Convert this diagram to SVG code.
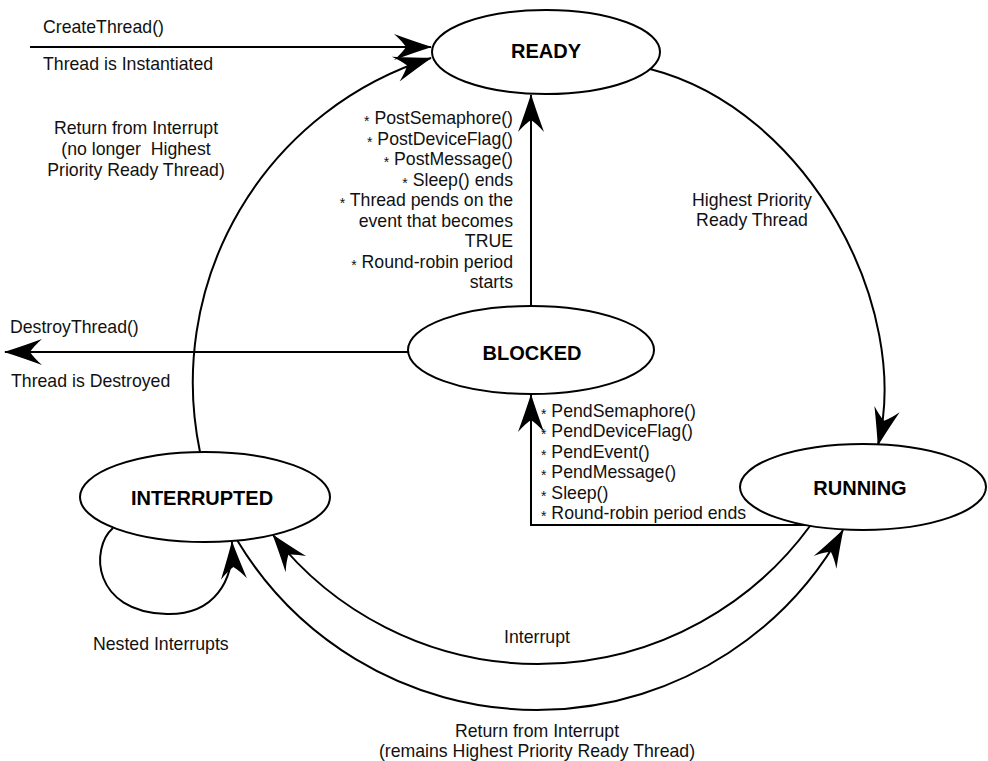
<svg xmlns="http://www.w3.org/2000/svg" width="988" height="761" viewBox="0 0 988 761">
<defs>
<style>
.node ellipse{fill:#fff;stroke:#000;stroke-width:2}
.nl{font-family:"Liberation Sans",Arial,sans-serif;font-size:20px;font-weight:bold;text-anchor:middle;fill:#000}
.t{font-family:"Liberation Sans",Arial,sans-serif;font-size:17.7px;fill:#111}
.c{text-anchor:middle}
.e{text-anchor:end}
.ast{font-size:14px}
#connectors path{fill:none;stroke:#000;stroke-width:2}
</style>
<marker id="ah" markerUnits="userSpaceOnUse" orient="auto" overflow="visible" markerWidth="1" markerHeight="1" refX="0" refY="0">
<path d="M1,0 Q-15,-5 -37,-13 Q-29,-6 -25,0 Q-29,6 -37,13 Q-15,5 1,0 Z" fill="#000"/>
</marker>
</defs>
<rect width="988" height="761" fill="#fff"/>
<g id="connectors">
<path d="M30,47 L431,47" marker-end="url(#ah)"/>
<path d="M200,452 A340,340 0 0 1 431,58" marker-end="url(#ah)"/>
<path d="M650,69 C810,110 912,310 878,445" marker-end="url(#ah)"/>
<path d="M531,306 L531,95" marker-end="url(#ah)"/>
<path d="M408,352 L5,352" marker-end="url(#ah)"/>
<path d="M805,525 L531,525 L531,395" marker-end="url(#ah)"/>
<path d="M810,526 A337,337 0 0 1 273,535" marker-end="url(#ah)"/>
<path d="M237,540 A350,350 0 0 0 843,530" marker-end="url(#ah)"/>
<path d="M113,528 C90,548 92,612 167,614 C215,615 234,580 232,542" marker-end="url(#ah)"/>
</g>
<g id="ready" class="node"><ellipse cx="546" cy="52" rx="114" ry="42"/><text class="nl" x="546" y="58">READY</text></g>
<g id="blocked" class="node"><ellipse cx="531" cy="350" rx="123" ry="44"/><text class="nl" x="532" y="360">BLOCKED</text></g>
<g id="running" class="node"><ellipse cx="863" cy="487" rx="123" ry="43"/><text class="nl" x="860" y="495">RUNNING</text></g>
<g id="interrupted" class="node"><ellipse cx="205" cy="497" rx="125" ry="45"/><text class="nl" x="202" y="505">INTERRUPTED</text></g>
<g id="labels">
<text class="t" x="43" y="33">CreateThread()</text>
<text class="t" x="43" y="70">Thread is Instantiated</text>
<text class="t c" x="136" y="134">Return from Interrupt</text>
<text class="t c" x="136" y="155">(no longer&#160; Highest</text>
<text class="t c" x="136" y="176">Priority Ready Thread)</text>
<text class="t c" x="752" y="206">Highest Priority</text>
<text class="t c" x="752" y="226">Ready Thread</text>
<text class="t" x="10" y="333">DestroyThread()</text>
<text class="t" x="11" y="387">Thread is Destroyed</text>
<text class="t" x="93" y="650">Nested Interrupts</text>
<text class="t c" x="537" y="643">Interrupt</text>
<text class="t c" x="537" y="737">Return from Interrupt</text>
<text class="t c" x="537" y="757">(remains Highest Priority Ready Thread)</text>
<g class="t e">
<text x="513" y="124"><tspan class="ast" dy="2">*</tspan><tspan dy="-2"> PostSemaphore()</tspan></text>
<text x="513" y="144.5"><tspan class="ast" dy="2">*</tspan><tspan dy="-2"> PostDeviceFlag()</tspan></text>
<text x="513" y="165"><tspan class="ast" dy="2">*</tspan><tspan dy="-2"> PostMessage()</tspan></text>
<text x="513" y="185.5"><tspan class="ast" dy="2">*</tspan><tspan dy="-2"> Sleep() ends</tspan></text>
<text x="513" y="206"><tspan class="ast" dy="2">*</tspan><tspan dy="-2"> Thread pends on the</tspan></text>
<text x="513" y="226.5">event that becomes</text>
<text x="513" y="247">TRUE</text>
<text x="513" y="267.5"><tspan class="ast" dy="2">*</tspan><tspan dy="-2"> Round-robin period</tspan></text>
<text x="513" y="288">starts</text>
</g>
<g class="t">
<text x="541" y="417"><tspan class="ast" dy="2">*</tspan><tspan dy="-2"> PendSemaphore()</tspan></text>
<text x="541" y="437.4"><tspan class="ast" dy="2">*</tspan><tspan dy="-2"> PendDeviceFlag()</tspan></text>
<text x="541" y="457.8"><tspan class="ast" dy="2">*</tspan><tspan dy="-2"> PendEvent()</tspan></text>
<text x="541" y="478.2"><tspan class="ast" dy="2">*</tspan><tspan dy="-2"> PendMessage()</tspan></text>
<text x="541" y="498.6"><tspan class="ast" dy="2">*</tspan><tspan dy="-2"> Sleep()</tspan></text>
<text x="541" y="519"><tspan class="ast" dy="2">*</tspan><tspan dy="-2"> Round-robin period ends</tspan></text>
</g>
</g>
</svg>
